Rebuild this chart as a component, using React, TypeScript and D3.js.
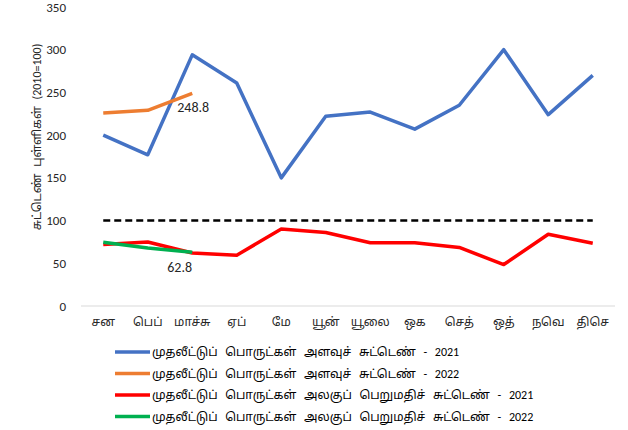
import React, { useEffect, useRef } from 'react';
import * as d3 from 'd3';

const months = ['சன', 'பெப்', 'மாச்சு', 'ஏப்', 'மே', 'யூன்', 'யூலை', 'ஒக', 'செத்', 'ஒத்', 'நவெ', 'திசெ'];
const volume2021 = [200, 177, 294, 261, 150, 222, 227, 207, 235, 300, 224, 270];
const volume2022 = [226, 229, 248.8];
const unitValue2021 = [72, 75, 62, 59.5, 90, 86, 74, 74, 68.5, 48.5, 84, 73.5];
const unitValue2022 = [74.5, 68, 62.8];
const yTicks = [0, 50, 100, 150, 200, 250, 300, 350];
const legendLabels = [
  'முதலீட்டுப் பொருட்கள் அளவுச் சுட்டெண் - 2021',
  'முதலீட்டுப் பொருட்கள் அளவுச் சுட்டெண் - 2022',
  'முதலீட்டுப் பொருட்கள் அலகுப் பெறுமதிச் சுட்டெண் - 2021',
  'முதலீட்டுப் பொருட்கள் அலகுப் பெறுமதிச் சுட்டெண் - 2022',
];
const colors = ['#4472c4', '#ed7d31', '#ff0000', '#00b050'];

const font = "Calibri, Carlito, 'Noto Sans', 'Noto Sans Tamil', sans-serif";

const App: React.FC = () => {
  const svgRef = useRef<SVGSVGElement>(null);

  useEffect(() => {
    const svg = d3.select(svgRef.current);
    svg.selectAll('*').remove();

    const width = 628;
    const height = 430;
    const left = 81, right = 615, top = 7, bottom = 306;

    const x = d3.scaleBand<string>().domain(months).range([left, right]);
    const y = d3.scaleLinear().domain([0, 350]).range([bottom, top]);
    const cx = (i: number) => (x(months[i]) || 0) + x.bandwidth() / 2;

    svg.attr('width', width).attr('height', height).style('font-family', font);

    // y tick labels
    svg.append('g')
      .selectAll('text')
      .data(yTicks)
      .enter()
      .append('text')
      .attr('x', 66)
      .attr('y', d => y(d))
      .attr('dy', '0.35em')
      .attr('text-anchor', 'end')
      .style('font-size', '13px')
      .style('fill', '#262626')
      .text(d => d);

    // x axis line
    svg.append('line')
      .attr('x1', left).attr('x2', right)
      .attr('y1', y(0)).attr('y2', y(0))
      .attr('stroke', '#d9d9d9').attr('stroke-width', 1);

    // x labels
    svg.append('g')
      .selectAll('text')
      .data(months)
      .enter()
      .append('text')
      .attr('x', (d, i) => cx(i))
      .attr('y', 326)
      .attr('text-anchor', 'middle')
      .style('font-size', '12px')
      .style('fill', '#262626')
      .text(d => d);

    // y axis title
    svg.append('text')
      .attr('transform', `translate(41, 137) rotate(-90)`)
      .attr('text-anchor', 'middle')
      .style('font-size', '12px')
      .style('word-spacing', '4px')
      .style('fill', '#262626')
      .text('சுட்டெண் புள்ளிகள் (2010=100)');

    // base 100 line
    svg.append('line')
      .attr('x1', cx(0)).attr('x2', cx(11))
      .attr('y1', y(100)).attr('y2', y(100))
      .attr('stroke', '#000')
      .attr('stroke-width', 2.5)
      .attr('stroke-dasharray', '7 4');

    const line = d3.line<number>()
      .x((d, i) => cx(i))
      .y(d => y(d));

    const series = [volume2021, volume2022, unitValue2021, unitValue2022];
    series.forEach((s, k) => {
      svg.append('path')
        .datum(s)
        .attr('fill', 'none')
        .attr('stroke', colors[k])
        .attr('stroke-width', 3.5)
        .attr('stroke-linejoin', 'round')
        .attr('d', line);
    });

    // data labels
    svg.append('text')
      .attr('x', cx(2) - 15)
      .attr('y', y(volume2022[2]) + 19)
      .style('font-size', '14px')
      .style('fill', '#262626')
      .text(volume2022[2]);

    svg.append('text')
      .attr('x', cx(2) - 25)
      .attr('y', y(unitValue2022[2]) + 20)
      .style('font-size', '14px')
      .style('fill', '#262626')
      .text(unitValue2022[2]);

    // legend
    const legend = svg.append('g');
    legendLabels.forEach((label, k) => {
      const ly = 352 + k * 21.5;
      legend.append('line')
        .attr('x1', 115).attr('x2', 150)
        .attr('y1', ly).attr('y2', ly)
        .attr('stroke', colors[k])
        .attr('stroke-width', 3.5);
      legend.append('text')
        .attr('x', 152)
        .attr('y', ly)
        .attr('dy', '0.35em')
        .style('font-size', '12px')
        .style('word-spacing', '5px')
        .style('fill', '#000')
        .text(label);
    });
  }, []);

  return <svg ref={svgRef} style={{ position: 'absolute', left: 0, top: 0 }}></svg>;
};

export default App;
